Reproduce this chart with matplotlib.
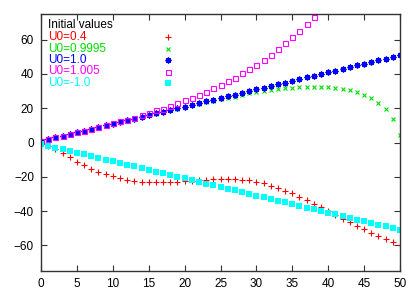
import matplotlib
matplotlib.use("Agg")
import matplotlib.pyplot as plt

x = list(range(51))

u04 = [0.4, -1.8, -3.9, -6.2, -8.6, -11.3, -13.2, -15.5, -17.1, -18.4, -19.6,
       -20.8, -21.7, -22.3, -22.9, -23.1, -23.3, -23.3, -23.1, -22.9, -22.7,
       -22.3, -21.9, -21.7, -21.4, -21.2, -21.2, -21.2, -21.6, -22.1, -23.1,
       -23.9, -25.1, -26.6, -28.2, -29.7, -31.7, -33.8, -35.7, -37.9, -39.8,
       -42.3, -44.7, -46.4, -48.7, -50.5, -52.7, -54.6, -56.3, -58.1, -59.8]

u09995 = [1.0, 2.0, 3.0, 4.0, 5.0, 6.0, 7.0, 8.0, 9.0, 10.0, 11.0,
          11.9, 12.9, 13.9, 14.9, 15.9, 16.9, 17.8, 18.8, 19.7, 20.6,
          21.6, 22.5, 23.5, 24.5, 25.3, 26.2, 26.8, 27.6, 28.6, 29.2,
          30.0, 30.7, 31.3, 31.7, 32.1, 32.3, 32.5, 32.5, 32.5, 32.3,
          31.9, 31.3, 30.7, 29.7, 28.0, 25.9, 23.1, 19.5, 14.0, 4.5]

u1 = [1, 2, 3, 4, 5, 6, 7, 8, 9, 10, 11, 12, 13, 14, 15, 16, 17, 18, 19, 20,
      21, 22, 23, 24, 25, 26, 27, 28, 29, 30, 31, 32, 33, 34, 35, 36, 37, 38,
      39, 40, 41, 42, 43, 44, 45, 46, 47, 48, 49, 50, 51]

x1005 = list(range(39))
u1005 = [1.0, 2.0, 3.0, 4.0, 5.0, 6.0, 7.0, 8.1, 9.1, 10.2, 11.2,
         12.3, 13.4, 14.4, 16.0, 17.5, 18.7, 19.8, 21.4, 23.1, 24.9,
         26.2, 27.8, 29.7, 31.7, 33.5, 36.0, 37.9, 40.5, 42.8, 45.5,
         48.2, 51.1, 54.6, 58.0, 61.5, 65.1, 69.2, 73.3]

um1 = [-1, -2, -3, -4, -5, -6, -7, -8, -9, -10, -11, -12, -13, -14, -15, -16,
       -17, -18, -19, -20, -21, -22, -23, -24, -25, -26, -27, -28, -29, -30,
       -31, -32, -33, -34, -35, -36, -37, -38, -39, -40, -41, -42, -43, -44,
       -45, -46, -47, -48, -49, -50, -51]

labels = ['U0=0.4', 'U0=0.9995', 'U0=1.0', 'U0=1.005', 'U0=-1.0']
colors = ['#ff0000', '#00dd00', '#0000ff', '#ff00ff', '#00ffff']
xticks = [0, 5, 10, 15, 20, 25, 30, 35, 40, 45, 50]
yticks = [-60, -40, -20, 0, 20, 40, 60]

plt.rcParams['font.family'] = ['Liberation Sans', 'DejaVu Sans']
fig = plt.figure(figsize=(4.19, 2.94), dpi=100)
ax = fig.add_axes([41/419, 1-271/294, 359/419, 257/294])

styles = [
    dict(marker='+', ms=4.5, mew=0.8),
    dict(marker='x', ms=3.5, mew=0.8),
    dict(marker=(8, 2, 0), ms=4.2, mew=1.0),
    dict(marker='s', ms=3.6, mfc='none', mew=0.8),
    dict(marker='s', ms=4.2, mew=0),
]
series = [(x, u04), (x, u09995), (x, u1), (x1005, u1005), (x, um1)]
for (xs, ys), st, c in zip(series, styles, colors):
    ax.plot(xs, ys, ls='none', color=c, **st)

ax.set_xlim(0, 50)
ax.set_ylim(-75, 75)
ax.set_xticks(xticks)
ax.set_yticks(yticks)
ax.tick_params(direction='in', length=4, width=0.8, top=True, right=True,
               labelsize=8.5, colors='#333333', labelcolor='black', pad=5)
for s in ax.spines.values():
    s.set_linewidth(1.0)
    s.set_color('#333333')

# key (legend) laid out like gnuplot: text left, marker in a column at right
def axx(px):
    return (px - 41) / 359

def axy(py):
    return (271 - py) / 257

ax.text(axx(48), axy(25), 'Initial values', transform=ax.transAxes,
        ha='left', va='center', fontsize=8.5, color='black')
key_y = [37, 48.5, 60, 71.5, 83]
for lab, c, st, py in zip(labels, colors, styles, key_y):
    ax.text(axx(48), axy(py), lab, transform=ax.transAxes,
            ha='left', va='center', fontsize=8.5, color=c)
    ax.plot([axx(168)], [axy(py)], ls='none', color=c, transform=ax.transAxes,
            clip_on=False, **st)

fig.savefig('out.png', dpi=100)
